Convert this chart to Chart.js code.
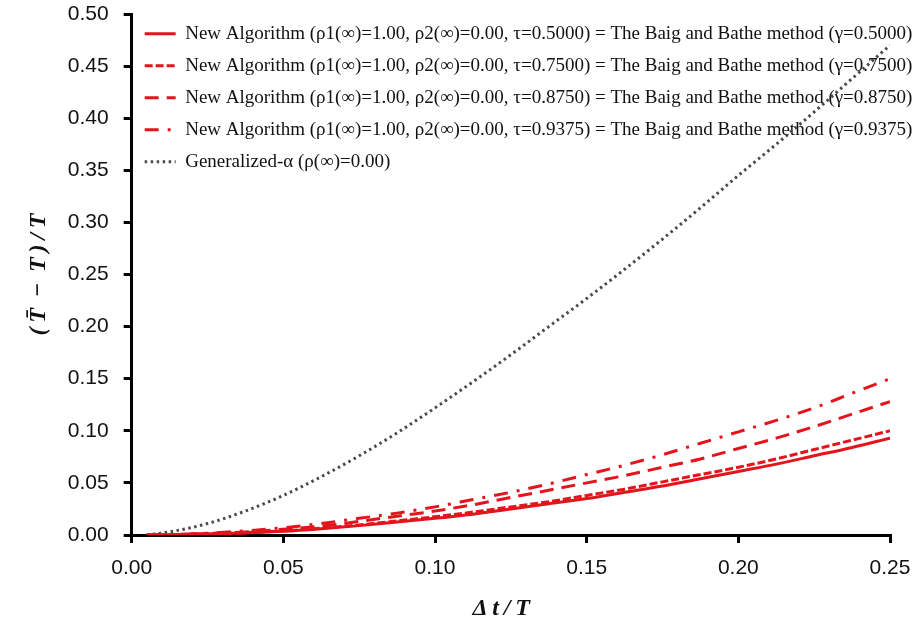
<!DOCTYPE html>
<html>
<head>
<meta charset="utf-8">
<script src="https://cdn.jsdelivr.net/npm/chart.js@4.4.1/dist/chart.umd.min.js"></script>
<style>
  html, body { margin: 0; padding: 0; background: #fff; }
  #wrap { width: 916px; height: 627px; position: relative; }
</style>
</head>
<body>
<div id="wrap"><canvas id="chart"></canvas></div>
<script>
// Δt/T sample positions
const dtValues = [0.005, 0.0125, 0.025, 0.0375, 0.05, 0.0625, 0.075, 0.0875, 0.1, 0.1125, 0.125,
    0.1375, 0.15, 0.1625, 0.175, 0.1875, 0.2, 0.2125, 0.225, 0.2375, 0.25];

// period error for each method
const tau05000 = [0, 0.0002, 0.001, 0.002, 0.0035, 0.006, 0.009, 0.0125, 0.016, 0.020, 0.025,
    0.030, 0.035, 0.041, 0.047, 0.054, 0.061, 0.068, 0.076, 0.084, 0.093];
const tau07500 = [0, 0.0002, 0.0011, 0.0023, 0.004, 0.0065, 0.0097, 0.0135, 0.0175, 0.022, 0.027,
    0.032, 0.038, 0.044, 0.051, 0.058, 0.065, 0.073, 0.082, 0.091, 0.100];
const tau08750 = [0, 0.0003, 0.0014, 0.003, 0.0055, 0.0085, 0.013, 0.018, 0.023, 0.029, 0.036,
    0.043, 0.050, 0.057, 0.065, 0.073, 0.083, 0.093, 0.104, 0.116, 0.128];
const tau09375 = [0, 0.0004, 0.0018, 0.004, 0.007, 0.011, 0.016, 0.021, 0.027, 0.034, 0.041,
    0.049, 0.058, 0.067, 0.077, 0.088, 0.099, 0.110, 0.122, 0.136, 0.150];
const genAlpha = [0, 0.003, 0.011, 0.023, 0.038, 0.056, 0.076, 0.098, 0.122, 0.147, 0.173,
    0.200, 0.227, 0.255, 0.284, 0.314, 0.345, 0.375, 0.406, 0.438, 0.470];

const seriesLabels = [
    "New Algorithm (ρ1(∞)=1.00, ρ2(∞)=0.00, τ=0.5000) = The Baig and Bathe method (γ=0.5000)",
    "New Algorithm (ρ1(∞)=1.00, ρ2(∞)=0.00, τ=0.7500) = The Baig and Bathe method (γ=0.7500)",
    "New Algorithm (ρ1(∞)=1.00, ρ2(∞)=0.00, τ=0.8750) = The Baig and Bathe method (γ=0.8750)",
    "New Algorithm (ρ1(∞)=1.00, ρ2(∞)=0.00, τ=0.9375) = The Baig and Bathe method (γ=0.9375)",
    "Generalized-α (ρ(∞)=0.00)"
];

const red = "#e3141b";
const toPoints = (arr) => dtValues.map((x, i) => ({ x: x, y: arr[i] }));

function makeSet(label, values, color, dash, width) {
    return {
        label: label,
        data: toPoints(values),
        borderColor: color,
        backgroundColor: color,
        borderWidth: width,
        borderDash: dash,
        pointRadius: 0,
        cubicInterpolationMode: "monotone",
        fill: false,
    };
}

// the legend text runs past the plot's right edge, so let it draw there
const legendRoom = {
    id: "legendRoom",
    afterLayout(chart) {
        if (chart.legend) {
            chart.legend.right = chart.width;
            chart.legend.width = chart.width - chart.legend.left;
        }
    },
};

const ctx = document.getElementById("chart").getContext("2d");
window.myChart = new Chart(ctx, {
    type: "line",
    data: {
        datasets: [
            makeSet(seriesLabels[0], tau05000, red, [], 3),
            makeSet(seriesLabels[1], tau07500, red, [8, 3], 3),
            makeSet(seriesLabels[2], tau08750, red, [14, 8], 3),
            makeSet(seriesLabels[3], tau09375, red, [14, 9, 3, 9], 3),
            makeSet(seriesLabels[4], genAlpha, "#4a4a4a", [2.5, 3.5], 3),
        ],
    },
    plugins: [legendRoom],
    options: {
        responsive: true,
        maintainAspectRatio: false,
        animation: false,
        layout: { padding: { left: 14, right: 26, top: 14, bottom: 0 } },
        plugins: {
            tooltip: { enabled: false },
            legend: {
                position: "chartArea",
                align: "start",
                title: { display: true, text: "", font: { size: 1 }, padding: { top: 0, bottom: 10 } },
                labels: {
                    usePointStyle: true,
                    pointStyle: "line",
                    pointStyleWidth: 31,
                    padding: 13,
                    color: "#111",
                    font: { family: "Liberation Serif", size: 19 },
                    // point-style items lose the dash, so copy it from the dataset
                    generateLabels: function(chart) {
                        const items = Chart.defaults.plugins.legend.labels.generateLabels(chart);
                        items.forEach((item) => {
                            const ds = chart.data.datasets[item.datasetIndex];
                            item.lineDash = ds.borderDash;
                            item.lineWidth = ds.borderWidth;
                            item.strokeStyle = ds.borderColor;
                        });
                        return items;
                    },
                },
            },
        },
        scales: {
            x: {
                type: "linear",
                min: 0,
                max: 0.25,
                afterFit: (scale) => { scale.paddingLeft = 0; scale.paddingRight = 0; },
                border: { display: true, color: "#000", width: 3 },
                grid: { display: true, drawOnChartArea: false, drawTicks: true, tickLength: 8, tickColor: "#000", lineWidth: 3 },
                ticks: {
                    stepSize: 0.05,
                    padding: 13,
                    color: "#111",
                    font: { family: "Liberation Sans", size: 21 },
                    callback: (v) => v.toFixed(2),
                },
                title: {
                    display: true,
                    text: "Δ\u2009t\u2009/\u2009T\u2009\u2009\u2009\u2009",
                    color: "#111",
                    padding: { top: 0, bottom: 4 },
                    font: { family: "Liberation Serif", size: 24, weight: "bold", style: "italic" },
                },
            },
            y: {
                min: 0,
                max: 0.5,
                afterFit: (scale) => { scale.paddingTop = 0; scale.paddingBottom = 0; },
                border: { display: true, color: "#000", width: 3 },
                grid: { display: true, drawOnChartArea: false, drawTicks: true, tickLength: 8, tickColor: "#000", lineWidth: 3 },
                ticks: {
                    stepSize: 0.05,
                    padding: 15,
                    color: "#111",
                    font: { family: "Liberation Sans", size: 21 },
                    callback: (v) => v.toFixed(2),
                },
                title: {
                    display: true,
                    text: "(\u2009T\u0304\u2009 − \u2009T\u2009)\u2009/\u2009T",
                    color: "#111",
                    padding: { top: 10, bottom: 0 },
                    font: { family: "Liberation Serif", size: 24, weight: "bold", style: "italic" },
                },
            },
        },
    },
});
</script>
</body>
</html>
